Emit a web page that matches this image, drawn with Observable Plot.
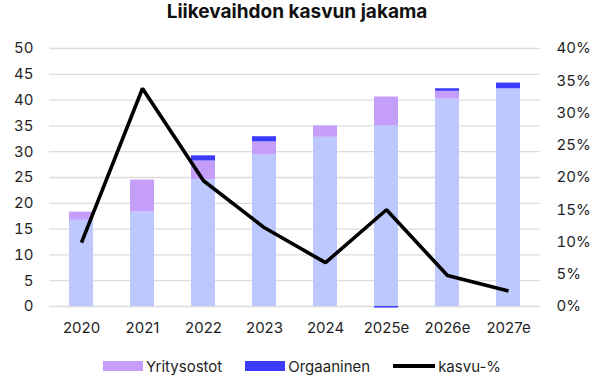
<!DOCTYPE html>
<html><head><meta charset="utf-8">
<script src="https://cdn.jsdelivr.net/npm/d3@7"></script>
<script src="https://cdn.jsdelivr.net/npm/@observablehq/plot@0.6"></script>
<style>
body{margin:0;background:#fff;font-family:Inter,"Liberation Sans",sans-serif;color:#1f1f1f}
#wrap{position:relative;width:594px;height:389px;overflow:hidden;background:#fff}
#title{position:absolute;left:0;top:1px;width:594px;text-align:center;font-weight:700;font-size:19px;line-height:22px;color:#111}
#chart{position:absolute;left:0;top:28px}
#legend{position:absolute;top:356px;left:103px;height:20px;display:flex;align-items:center;font-size:15px;white-space:nowrap}
.item{display:flex;align-items:center;margin-right:23px}
.sw{width:40px;height:10px;margin-right:3px}
.ln{width:42px;height:4px;background:#000;margin-right:3px}
</style></head><body>
<div id="wrap">
<div id="title">Liikevaihdon kasvun jakama</div>
<div id="chart"></div>
<div id="legend"></div>
</div>
<script>
// --- data ---
const years = ["2020","2021","2022","2023","2024","2025e","2026e","2027e"];
const baseValues = [16.7, 18.3, 24.6, 29.4, 32.8, 35.0, 40.2, 42.2];      // previous year level
const yritysostot = [1.6, 6.2, 3.6, 2.5, 2.2, 5.6, 1.5, 0];
const orgaaninen = [0, 0, 1.0, 1.0, 0, -0.3, 0.5, 1.1];
const kasvu = [9.9, 33.8, 19.5, 12.2, 6.8, 15.0, 4.8, 2.4];                // %
const leftTicks = [0,5,10,15,20,25,30,35,40,45,50];
const rightTicks = [0,5,10,15,20,25,30,35,40];                              // %
const seriesNames = ["Pohja","Yritysostot","Orgaaninen"];
const seriesColors = ["#bcc8fe","#c59dfb","#3c3cff"];
const legendNames = ["Yritysostot","Orgaaninen","kasvu-%"];

// --- build tables ---
const rows = [];
years.forEach((yr,i)=>{
  rows.push({year:yr, series:"Pohja", value:baseValues[i]});
  rows.push({year:yr, series:"Yritysostot", value:yritysostot[i]});
  rows.push({year:yr, series:"Orgaaninen", value:orgaaninen[i]});
});
const k = 50/40; // 40 % on the right axis = 50 on the left axis
const lineRows = years.map((yr,i)=>({year:yr, g:kasvu[i]*k}));

const chart = Plot.plot({
  width:594, height:317,
  marginTop:20, marginBottom:39, marginLeft:49, marginRight:54,
  style:{fontFamily:"Inter, 'Liberation Sans', sans-serif", fontSize:"15px", color:"#1f1f1f", background:"transparent", overflow:"visible"},
  x:{domain:years, paddingInner:0.6, paddingOuter:0.3, axis:null, label:null},
  y:{domain:[0,50], axis:null, label:null},
  color:{domain:seriesNames, range:seriesColors},
  marks:[
    Plot.ruleY(leftTicks, {stroke:"#dcdcdc", strokeWidth:1.3}),
    Plot.barY(rows, {x:"year", y:"value", fill:"series", order:seriesNames}),
    Plot.line(lineRows, {x:"year", y:"g", stroke:"#000", strokeWidth:3.6, strokeLinejoin:"miter", strokeLinecap:"butt"}),
    Plot.axisX({tickSize:0, tickPadding:16, label:null}),
    Plot.axisY(leftTicks, {anchor:"left", tickSize:0, tickPadding:16, label:null}),
    Plot.axisY(rightTicks.map(p=>p*k), {anchor:"right", tickSize:0, tickPadding:16, label:null, tickFormat:d=>Math.round(d/k)+"%"})
  ]
});
document.getElementById("chart").appendChild(chart);

// --- legend ---
const lg = document.getElementById("legend");
const legendColors = {"Yritysostot":seriesColors[1], "Orgaaninen":seriesColors[2]};
legendNames.forEach(n=>{
  const it = document.createElement("div"); it.className="item";
  const s = document.createElement("div");
  if (n === "kasvu-%") { s.className="ln"; } else { s.className="sw"; s.style.background = legendColors[n]; }
  const t = document.createElement("span"); t.textContent = n;
  it.appendChild(s); it.appendChild(t); lg.appendChild(it);
});
</script>
</body></html>
